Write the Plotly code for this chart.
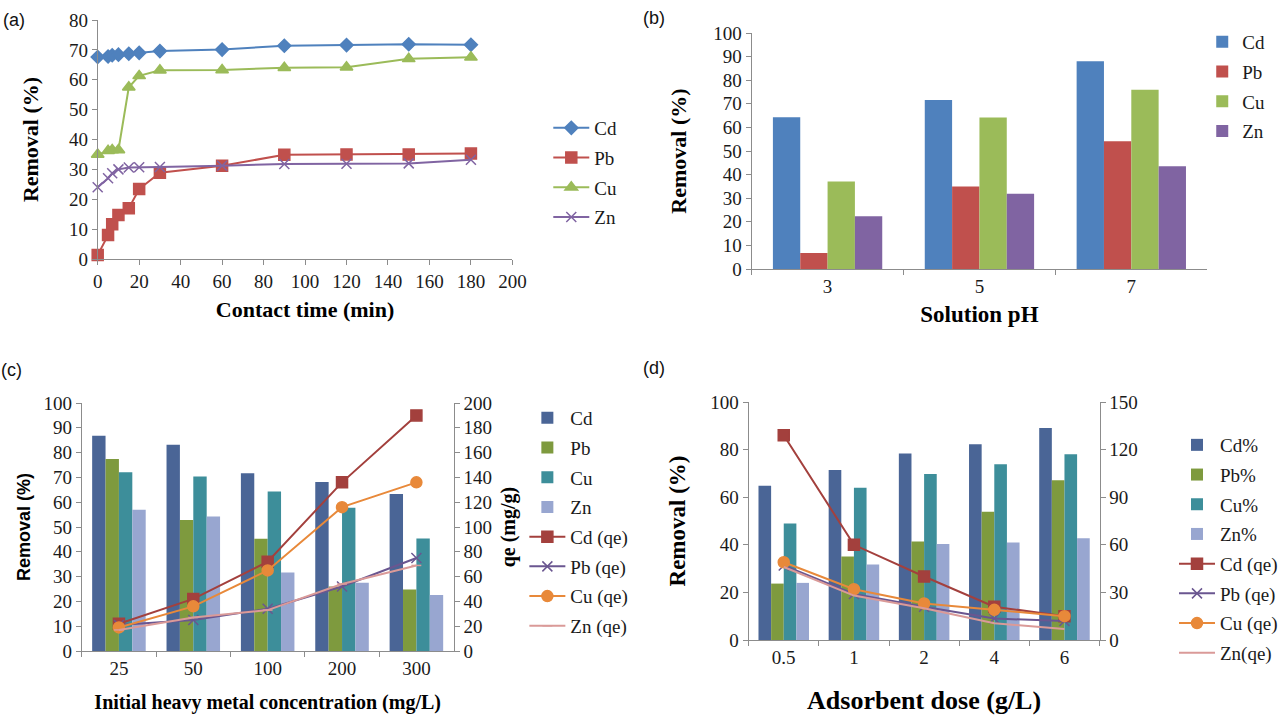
import plotly.graph_objects as go

# ---------------- data ----------------
# (a) contact time
time_min = [0, 5, 7, 10, 15, 20, 30, 60, 90, 120, 150, 180]
a_cd = [67.6, 67.8, 68.2, 68.4, 68.7, 69.0, 69.6, 70.1, 71.4, 71.6, 71.9, 71.7]
a_pb = [1.3, 8.0, 11.6, 14.7, 17.0, 23.4, 28.9, 31.2, 34.9, 35.0, 35.0, 35.3]
a_cu = [35.0, 36.2, 36.5, 36.5, 57.5, 61.3, 63.2, 63.3, 64.0, 64.2, 67.0, 67.5]
a_zn = [24.0, 27.0, 28.7, 30.0, 30.6, 30.7, 30.8, 31.2, 31.8, 31.9, 32.0, 33.2]

# (b) solution pH
ph_labels = ["3", "5", "7"]
b_cd = [64.3, 71.6, 88.0]
b_pb = [6.8, 35.0, 54.1]
b_cu = [37.1, 64.2, 76.0]
b_zn = [22.3, 31.9, 43.5]

# (c) initial concentration
conc_labels = ["25", "50", "100", "200", "300"]
c_cd = [86.8, 83.2, 71.7, 68.1, 63.3]
c_pb = [77.4, 52.8, 45.3, 26.0, 24.8]
c_cu = [72.1, 70.4, 64.3, 57.8, 45.4]
c_zn = [57.0, 54.2, 31.7, 27.5, 22.6]
c_cd_qe = [22, 42, 72, 136, 190]
c_pb_qe = [21, 25, 34, 52, 75]
c_cu_qe = [19, 36, 65, 116, 136]
c_zn_qe = [17, 27, 33, 54, 69]

# (d) adsorbent dose
dose_labels = ["0.5", "1", "2", "4", "6"]
d_cd = [64.8, 71.4, 78.4, 82.2, 89.1]
d_pb = [23.7, 35.1, 41.4, 53.9, 67.1]
d_cu = [49.0, 64.0, 69.8, 73.8, 78.0]
d_zn = [24.0, 31.7, 40.3, 41.0, 42.7]
d_cd_qe = [129, 60, 40, 21, 15]
d_pb_qe = [47, 29, 21, 13.5, 12]
d_cu_qe = [49, 32, 23, 19, 15]
d_zn_qe = [46, 28, 20, 10.5, 7]

# ---------------- style ----------------
W, H = 1283, 715
SERIF = "Liberation Serif, Times New Roman, serif"
SANS = "Liberation Sans, Arial, sans-serif"
AXC = "#8c8c8c"
TXT = "#1a1a1a"


def px(x):
    return x / W


def py(y):
    return 1 - y / H


fig = go.Figure()

# (a) lines
a_specs = [("Cd", a_cd, "#4F81BD", "diamond", 10),
           ("Pb", a_pb, "#C0504D", "square", 11),
           ("Cu", a_cu, "#9BBB59", "triangle-up", 11),
           ("Zn", a_zn, "#8064A2", "x-thin-open", 10)]
for name, vals, col, sym, sz in a_specs:
    fig.add_trace(go.Scatter(
        x=time_min, y=vals, name=name, mode="lines+markers", cliponaxis=False,
        line=dict(color=col, width=2),
        marker=dict(symbol=sym, size=sz, color=col, line=dict(color=col, width=1.5)),
        xaxis="x", yaxis="y", legend="legend", legendgroup="a" + name))

# (b) bars
b_specs = [("Cd", b_cd, "#4F81BD"), ("Pb", b_pb, "#C0504D"),
           ("Cu", b_cu, "#9BBB59"), ("Zn", b_zn, "#8064A2")]
for name, vals, col in b_specs:
    fig.add_trace(go.Bar(
        x=ph_labels, y=vals, name=name, marker=dict(color=col, line=dict(width=0)),
        xaxis="x2", yaxis="y2", legend="legend2", legendgroup="b" + name))

# (c) bars + qe lines
CD2, PB2, CU2, ZN2 = "#4A6596", "#7E9A3E", "#3D8E9A", "#98A6D0"
c_bar = [("Cd", c_cd, CD2), ("Pb", c_pb, PB2), ("Cu", c_cu, CU2), ("Zn", c_zn, ZN2)]
for name, vals, col in c_bar:
    fig.add_trace(go.Bar(
        x=conc_labels, y=vals, name=name, marker=dict(color=col, line=dict(width=0)),
        xaxis="x3", yaxis="y3", legend="legend3", legendgroup="c" + name))
c_line = [("Cd (qe)", c_cd_qe, "#A3403D", "square", 11),
          ("Pb (qe)", c_pb_qe, "#6A5690", "x-thin-open", 10),
          ("Cu (qe)", c_cu_qe, "#E8893A", "circle", 11),
          ("Zn (qe)", c_zn_qe, "#DA9A98", "line-ew-open", 7)]
for name, vals, col, sym, sz in c_line:
    fig.add_trace(go.Scatter(
        x=conc_labels, y=vals, name=name, mode="lines+markers", cliponaxis=False,
        line=dict(color=col, width=2),
        marker=dict(symbol=sym, size=sz, color=col, line=dict(color=col, width=1.5)),
        xaxis="x3", yaxis="y5", legend="legend3", legendgroup="c" + name))

# (d) bars + qe lines
d_bar = [("Cd%", d_cd, CD2), ("Pb%", d_pb, PB2), ("Cu%", d_cu, CU2), ("Zn%", d_zn, ZN2)]
for name, vals, col in d_bar:
    fig.add_trace(go.Bar(
        x=dose_labels, y=vals, name=name, marker=dict(color=col, line=dict(width=0)),
        xaxis="x4", yaxis="y4", legend="legend4", legendgroup="d" + name))
d_line = [("Cd (qe)", d_cd_qe, "#A3403D", "lines+markers", "square", 11),
          ("Pb (qe)", d_pb_qe, "#6A5690", "lines+markers", "x-thin-open", 10),
          ("Cu (qe)", d_cu_qe, "#E8893A", "lines+markers", "circle", 11),
          ("Zn(qe)", d_zn_qe, "#DA9A98", "lines", "circle", 1)]
for name, vals, col, mode, sym, sz in d_line:
    fig.add_trace(go.Scatter(
        x=dose_labels, y=vals, name=name, mode=mode, cliponaxis=False,
        line=dict(color=col, width=2),
        marker=dict(symbol=sym, size=sz, color=col, line=dict(color=col, width=1.5)),
        xaxis="x4", yaxis="y6", legend="legend4", legendgroup="d" + name))

tickfont = dict(family=SERIF, size=19, color=TXT)


def ax(**kw):
    base = dict(showline=True, linecolor=AXC, linewidth=1, ticks="outside",
                tickcolor=AXC, ticklen=5, showgrid=False, zeroline=False,
                tickfont=tickfont, automargin=False, fixedrange=True)
    base.update(kw)
    return base


def ttl(text, size, family=SERIF, standoff=10):
    return dict(text=text, font=dict(family=family, size=size, color="#000", weight="bold"),
                standoff=standoff)


legfont = dict(family=SERIF, size=19, color=TXT)


def leg(x, y, itemwidth=36, gap=2):
    return dict(x=px(x), y=py(y), xanchor="left", yanchor="top", font=legfont,
                bgcolor="rgba(0,0,0,0)", tracegroupgap=gap, itemwidth=itemwidth,
                traceorder="grouped")


fig.update_layout(
    width=W, height=H, margin=dict(l=0, r=0, t=0, b=0),
    paper_bgcolor="white", plot_bgcolor="white",
    barmode="group", bargap=0.28, bargroupgap=0,
    showlegend=True,
    # (a)
    xaxis=ax(domain=[px(98), px(514)], anchor="y", range=[0, 200], dtick=20,
             title=ttl("Contact time (min)", 22, standoff=10)),
    yaxis=ax(domain=[py(259), py(20)], anchor="x", range=[0, 80], dtick=10,
             title=ttl("Removal (%)", 22, standoff=24)),
    # (b)
    xaxis2=ax(domain=[px(754), px(1211)], anchor="y2", type="category",
              range=[-0.5, 2.5], tickson="boundaries",
              title=ttl("Solution pH", 23, standoff=10)),
    yaxis2=ax(domain=[py(269), py(33)], anchor="x2", range=[0, 100], dtick=10,
              title=ttl("Removal (%)", 22, standoff=20)),
    # (c)
    xaxis3=ax(domain=[px(82), px(455)], anchor="y3", type="category",
              range=[-0.5, 4.5], tickson="boundaries",
              title=ttl("Initial heavy metal concentration (mg/L)", 20, standoff=17)),
    yaxis3=ax(domain=[py(651), py(403)], anchor="x3", range=[0, 100], dtick=10,
              title=ttl("Removal (%)", 18, family=SANS, standoff=8)),
    yaxis5=ax(overlaying="y3", anchor="x3", side="right", range=[0, 200], dtick=20,
              title=ttl("qe (mg/g)", 20, standoff=10)),
    # (d)
    xaxis4=ax(domain=[px(751), px(1103)], anchor="y4", type="category",
              range=[-0.5, 4.5], tickson="boundaries",
              title=ttl("Adsorbent dose (g/L)", 26, standoff=24)),
    yaxis4=ax(domain=[py(640), py(402)], anchor="x4", range=[0, 100], dtick=20,
              title=ttl("Removal (%)", 23, standoff=18)),
    yaxis6=ax(overlaying="y4", anchor="x4", side="right", range=[0, 150], dtick=30),
    legend=leg(550, 109),
    legend2=leg(1206, 23, itemwidth=30),
    legend3=leg(526, 399),
    legend4=leg(1178, 426),
)

panel_labels = [("(a)", 14, 20), ("(b)", 656, 18), ("(c)", 12, 370), ("(d)", 656, 368)]
for txt, x, y in panel_labels:
    fig.add_annotation(text=txt, x=px(x), y=py(y), xref="paper", yref="paper",
                       showarrow=False, xanchor="center", yanchor="middle",
                       font=dict(family=SANS, size=18, color="#111"))

fig.write_html("out.html", config={"displayModeBar": False},
               post_script="document.body.style.margin='0';")
